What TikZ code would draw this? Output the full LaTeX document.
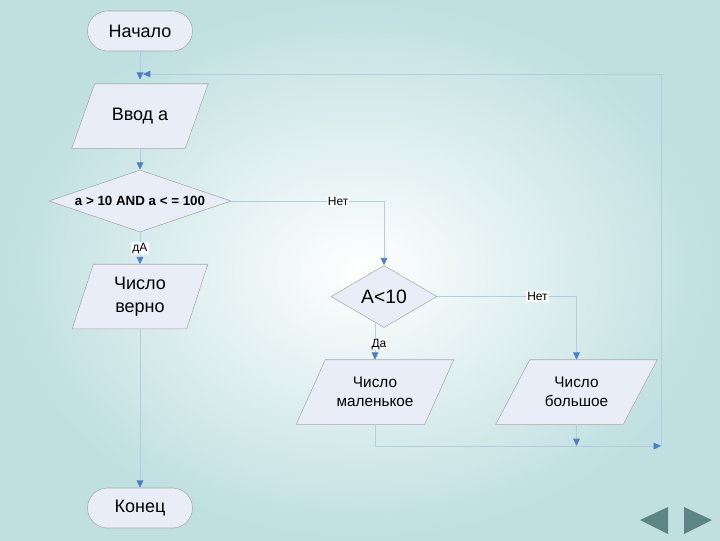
\documentclass[tikz,border=0pt]{standalone}
\usepackage{fontspec}
\setmainfont{Liberation Sans}
\usetikzlibrary{shapes.geometric,arrows.meta}
\definecolor{bgteal}{HTML}{BFDFE0}
\definecolor{shapefill}{HTML}{E8EDF7}
\definecolor{shapeline}{HTML}{A8A8A8}
\definecolor{connline}{HTML}{B4CCE0}
\definecolor{tipblue}{HTML}{4F7FC0}
\definecolor{navgray}{HTML}{5E8585}
\pgfdeclarelayer{back}
\pgfdeclarelayer{shapes}
\pgfsetlayers{back,shapes,main}
\tikzset{
  term/.style={draw=shapeline, fill=shapefill, rounded corners=15pt, minimum width=78.75pt, minimum height=30pt, font=\fontsize{13.5}{16}\selectfont},
  iobox/.style={minimum width=#1, minimum height=48pt, inner sep=0pt, align=center},
  iopath/.style={draw=shapeline, fill=shapefill},
  decision/.style={diamond, aspect=3, inner sep=0pt, draw=shapeline, fill=shapefill},
  conn/.style={draw=connline, line width=0.6pt},
  arr/.style={conn, -{Triangle[width=5pt,length=5.5pt,color=tipblue]}},
  lbl/.style={font=\fontsize{9}{11}\selectfont, fill=white, fill opacity=0.85, text opacity=1, inner sep=0.8pt}
}
\begin{document}
\begin{tikzpicture}[x=0.75pt,y=-0.75pt]
\useasboundingbox (0,0) rectangle (720,540);
\begin{pgfonlayer}{back}
\shade[inner color=white, outer color=bgteal] (0,0) rectangle (720,540);
\end{pgfonlayer}

% nodes
\node[term] (start) at (140,31) {Начало};
\node[iobox=84.75pt, font=\fontsize{13.5}{16}\selectfont] (in) at (140,116) {Ввод а};
\node[decision, minimum width=136.5pt, minimum height=46.5pt, font=\bfseries\fontsize{10}{12}\selectfont] (cond) at (140,201) {a > 10 AND a < = 100};
\node[iobox=85.5pt, font=\fontsize{13.5}{17}\selectfont] (ok) at (140,296.5) {Число\\верно};
\node[term] (end) at (140,508) {Конец};
\node[decision, minimum width=79.5pt, minimum height=46.5pt, font=\fontsize{14.5}{16}\selectfont] (A) at (384,296.5) {A<10};
\node[iobox=96pt, font=\fontsize{11.5}{14}\selectfont] (small) at (375,392) {Число\\маленькое};
\node[iobox=95.25pt, font=\fontsize{11.5}{14}\selectfont] (big) at (576.5,392) {Число\\большое};

% parallelogram outlines
\begin{pgfonlayer}{shapes}
\foreach \n/\s in {in/8.6, ok/7.9, small/10.9, big/12.75}{
  \path[iopath] ([xshift=-\s pt]\n.south west) -- ([xshift=-\s pt]\n.south east)
     -- ([xshift=\s pt]\n.north east) -- ([xshift=\s pt]\n.north west) -- cycle;
}
\end{pgfonlayer}

% helper coordinates
\coordinate (j) at (661,446);
\coordinate (loopend) at (143,74);

% connectors
\draw[arr] (start.south) -- ([yshift=3pt]in.north);
\draw[arr] (in.south) -- (cond.north);
\draw[arr] (cond.south) -- node[lbl]{дА} (ok.north);
\draw[conn] (ok.south) -- (end.north);
\draw[arr] (end.north |- 0,470) -- (end.north);
\draw[arr] (cond.east) -| node[lbl, pos=0.35]{Нет} (A.north);
\draw[arr] (A.east) -| node[lbl, pos=0.36]{Нет} (big.north);
\draw[arr] ([yshift=3.5pt]small.north |- A.south) -- node[lbl, xshift=3pt, yshift=-2pt]{Да} (small.north);
\draw[arr] (small.south) |- (j);
\draw[arr] (big.south) -- (big.south |- j);
\draw[arr] (j) |- (loopend);

% navigation buttons
\fill[navgray] (640,520) -- (668,507) -- (668,534) -- cycle;
\fill[navgray] (684,507) -- (684,534) -- (712,520) -- cycle;
\end{tikzpicture}
\end{document}
